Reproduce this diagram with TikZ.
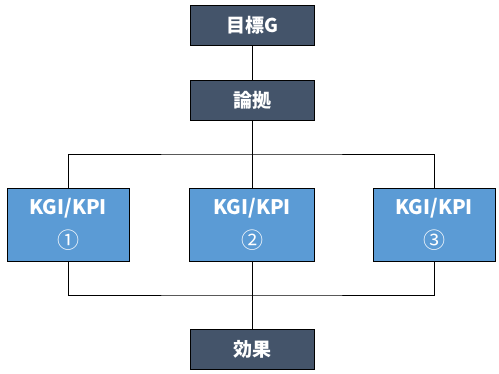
\documentclass[tikz,border=0pt]{standalone}
\usepackage{fontspec}
\setmainfont{Noto Sans CJK JP}
\begin{document}
\begin{tikzpicture}[x=1pt,y=1pt,
  darkbox/.style={draw=black,line width=0.9pt,fill=dark,text=white,minimum width=124pt,minimum height=40pt,inner sep=0pt,font=\fontsize{19}{22}\selectfont\bfseries},
  bluebox/.style={draw=black,line width=0.9pt,fill=kblue,text=white,minimum width=122pt,minimum height=73pt,inner sep=0pt,align=center,font=\fontsize{20}{34}\selectfont\bfseries},
  conn/.style={draw=black,line width=0.9pt}]
\definecolor{dark}{HTML}{44546A}
\definecolor{kblue}{HTML}{5B9BD5}
\useasboundingbox (0,0) rectangle (499,374);
\node[darkbox] (goal) at (252,348.5) {目標G};
\node[darkbox] (ron) at (252,274) {論拠};
\node[bluebox] (k1) at (68,149.5) {KGI/KPI\\{\fontsize{22}{34}\selectfont\mdseries ①}};
\node[bluebox,minimum width=125pt] (k2) at (252,149.5) {KGI/KPI\\{\fontsize{22}{34}\selectfont\mdseries ②}};
\node[bluebox] (k3) at (434,149.5) {KGI/KPI\\{\fontsize{22}{34}\selectfont\mdseries ③}};
\node[darkbox] (eff) at (252,25) {効果};
\coordinate (hubT) at (252,220);
\coordinate (hubB) at (252,79);
\draw[conn] (goal.south) -- (ron.north);
\draw[conn] (ron.south) -- (k2.north);
\draw[conn] (k1.north) |- (hubT) -| (k3.north);
\draw[conn] (k2.south) -- (eff.north);
\draw[conn] (k1.south) |- (hubB) -| (k3.south);
\end{tikzpicture}
\end{document}
